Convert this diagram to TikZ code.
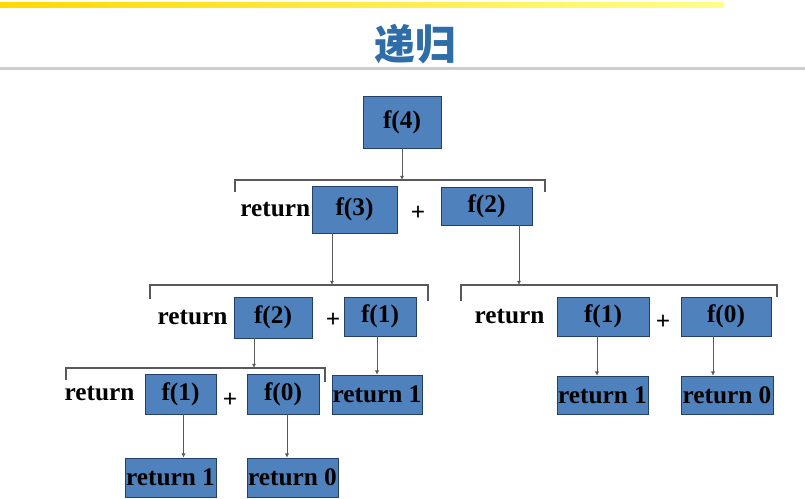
\documentclass[tikz,border=0pt]{standalone}
\usepackage{fontspec}
\setmainfont{Liberation Serif}
\newfontfamily\cjk{Noto Sans CJK SC}
\usetikzlibrary{arrows.meta}
\usetikzlibrary{positioning}
\definecolor{boxblue}{HTML}{4F81BD}
\definecolor{boxedge}{HTML}{22406A}
\definecolor{titleblue}{HTML}{2E6DA8}
\tikzset{
  fbox/.style={draw=boxedge,fill=boxblue,inner sep=0pt,font=\fontsize{18}{20}\selectfont\bfseries},
  word/.style={inner sep=0pt,font=\fontsize{18}{20}\selectfont\bfseries},
  brk/.style={draw=black!65,line width=1pt},
  link/.style={draw=black!65,line width=0.7pt,-{Latex[length=3pt,width=3pt]}}
}
\begin{document}
\begin{tikzpicture}[x=0.025cm,y=-0.025cm]
  \useasboundingbox (0,0) rectangle (805,499);
  \fill[white] (0,0) rectangle (805,499);
  \shade[left color=yellow!70!orange,right color=yellow!45] (0,3) rectangle (724,8);
  \fill[black!20] (0,67) rectangle (805,70);
  \node[font=\cjk\bfseries\fontsize{29}{31}\selectfont,text=titleblue] (title) at (415,44) {递归};

  \node[fbox,minimum width=1.95cm,minimum height=1.3cm] (f4) at (402,122) {f(4)};

  \node[fbox,minimum width=2.125cm,minimum height=1.175cm] (f3) at (354.5,209.5) {f(3)};
  \node[fbox,minimum width=2.275cm,minimum height=0.95cm] (f2) at (486.5,206) {f(2)};
  \node[word,left=0.03cm of f3] (ret1) {return};
  \node[word] (plus1) at (418,213) {+};

  \node[fbox,minimum width=1.95cm,minimum height=1.025cm] (f2b) at (273,317.5) {f(2)};
  \node[fbox,minimum width=1.8cm,minimum height=0.975cm] (f1a) at (380,316.5) {f(1)};
  \node[word,left=0.15cm of f2b] (ret2) {return};
  \node[word] (plus2) at (333,320) {+};

  \node[fbox,minimum width=2.3cm,minimum height=0.975cm] (f1b) at (603,316.5) {f(1)};
  \node[fbox,minimum width=2.25cm,minimum height=0.975cm] (f0b) at (726,316.5) {f(0)};
  \node[word,left=0.3cm of f1b] (ret3) {return};
  \node[word] (plus3) at (663,322) {+};

  \node[fbox,minimum width=1.775cm,minimum height=1cm] (f1c) at (180.5,394) {f(1)};
  \node[fbox,minimum width=1.8cm,minimum height=1cm] (f0c) at (283,394) {f(0)};
  \node[word,left=0.25cm of f1c] (ret4) {return};
  \node[word] (plus4) at (230,400) {+};

  \node[fbox,minimum width=2.25cm,minimum height=0.975cm] (r1a) at (377,394.5) {return 1};
  \node[fbox,minimum width=2.275cm,minimum height=0.95cm] (r1b) at (602.5,395) {return 1};
  \node[fbox,minimum width=2.3cm,minimum height=0.95cm] (r0b) at (727,395) {return 0};
  \node[fbox,minimum width=2.275cm,minimum height=0.975cm] (r1c) at (170.5,477.5) {return 1};
  \node[fbox,minimum width=2.275cm,minimum height=0.975cm] (r0c) at (292.5,477.5) {return 0};

  % brackets
  \draw[brk] (235,192) -- (235,180) -- (545,180) -- (545,192);
  \draw[brk] (150,299) -- (150,285) -- (428,285) -- (428,301);
  \draw[brk] (461,301) -- (461,285) -- (777,285) -- (777,297);
  \draw[brk] (66,380) -- (66,368) -- (325,368) -- (325,382);
  \coordinate (b1) at (402,180);
  \coordinate (b2) at (332,285);
  \coordinate (b3) at (519,285);
  \coordinate (b4) at (254,368);

  \draw[link] (f4) -- (b1);
  \draw[link] (b2 |- f3.south) -- (b2);
  \draw[link] (b3 |- f2.south) -- (b3);
  \draw[link] (b4 |- f2b.south) -- (b4);
  \draw[link] ([xshift=-0.075cm]f1a.south) -- ([xshift=-0.075cm]f1a.south |- r1a.north);
  \draw[link] ([xshift=0.075cm]f1c.south) -- ([xshift=0.075cm]f1c.south |- r1c.north);
  \draw[link] ([xshift=0.1cm]f0c.south) -- ([xshift=0.1cm]f0c.south |- r0c.north);
  \draw[link] ([xshift=-0.15cm]f1b.south) -- ([xshift=-0.15cm]f1b.south |- r1b.north);
  \draw[link] ([xshift=-0.325cm]f0b.south) -- ([xshift=-0.325cm]f0b.south |- r0b.north);
\end{tikzpicture}
\end{document}
